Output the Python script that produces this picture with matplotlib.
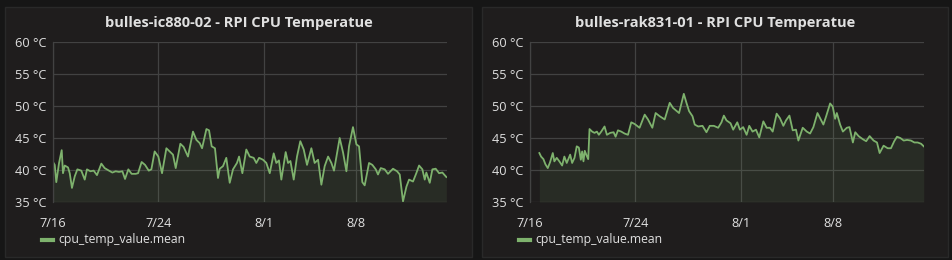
import matplotlib.pyplot as plt
from matplotlib.patches import Rectangle

plt.rcParams['font.family'] = ['Open Sans', 'DejaVu Sans']

# days since 7/16
left_days = [0.00, 0.13, 0.25, 0.46, 0.66, 0.76, 0.89, 1.14, 1.27, 1.44, 1.65, 1.85, 2.15, 2.41, 2.58,
             2.84, 3.09, 3.34, 3.67, 3.92, 4.25, 4.51, 4.76, 5.01, 5.27, 5.47, 5.72, 5.97, 6.28, 6.46,
             6.73, 6.99, 7.27, 7.47, 7.72, 8.00, 8.28, 8.61, 8.86, 9.11, 9.32, 9.67, 9.92, 10.25, 10.63,
             10.89, 11.14, 11.32, 11.65, 11.85, 12.05, 12.30, 12.53, 12.66, 12.91, 13.16, 13.42, 13.67,
             13.97, 14.13, 14.38, 14.68, 14.94, 15.24, 15.44, 15.65, 15.95, 16.20, 16.46, 16.76, 16.96,
             17.16, 17.34, 17.67, 17.85, 18.03, 18.28, 18.53, 18.78, 19.04, 19.29, 19.62, 19.87, 20.13,
             20.38, 20.63, 20.89, 21.14, 21.34, 21.77, 22.03, 22.28, 22.48, 22.78, 23.04, 23.24, 23.49,
             23.67, 24.00, 24.25, 24.51, 24.68, 24.89, 25.19, 25.44, 25.82, 26.13, 26.33, 26.58, 26.84,
             27.04, 27.34, 27.59, 27.80, 28.05, 28.23, 28.35, 28.61, 28.81, 29.06, 29.32, 29.57, 29.87]
left_temp = [41.25, 40.8, 38.1, 41.1, 43.1, 39.5, 40.7, 40.4, 39.5, 37.2, 39.0, 40.1, 39.9, 38.5, 40.1,
             39.8, 39.9, 39.2, 41.0, 40.3, 39.9, 39.6, 39.8, 39.7, 39.8, 38.6, 40.1, 39.4, 39.4, 39.5,
             41.25, 40.8, 39.9, 40.1, 42.9, 42.1, 39.5, 43.4, 42.9, 42.4, 40.3, 44.1, 43.6, 42.1, 46.0,
             44.7, 44.2, 43.4, 46.4, 46.2, 43.7, 43.4, 38.75, 40.2, 40.6, 41.9, 38.0, 40.1,
             41.1, 42.1, 39.5, 43.2, 42.1, 41.9, 41.1, 41.9, 41.6, 41.1, 39.5, 42.6, 41.1,
             41.5, 38.5, 42.8, 41.1, 41.4, 38.5, 42.1, 44.5, 43.2, 40.8, 43.4, 41.1, 41.6,
             37.7, 40.6, 42.1, 41.1, 39.9, 45.0, 42.7, 39.8, 43.7, 46.7, 44.0, 43.7, 38.1,
             37.6, 41.1, 40.8, 40.1, 39.3, 40.3, 40.1, 39.4, 40.2, 39.8, 39.3, 35.1, 37.4,
             38.5, 38.2, 39.5, 40.7, 40.1, 38.5, 39.6, 38.0, 40.1, 40.2, 39.5, 39.6, 38.9]

right_days = [0.71, 0.84, 1.02, 1.17, 1.35, 1.52, 1.73, 1.85, 2.03, 2.23, 2.44, 2.61, 2.79, 3.05, 3.20,
              3.38, 3.55, 3.71, 3.86, 3.96, 4.06, 4.16, 4.31, 4.42, 4.52, 4.72, 4.90, 5.08, 5.23, 5.41,
              5.66, 5.84, 6.09, 6.35, 6.50, 6.68, 6.93, 7.18, 7.44, 7.69, 7.94, 8.32, 8.71, 8.96, 9.29,
              9.54, 9.85, 10.23, 10.61, 10.86, 11.32, 11.68, 11.88, 12.08, 12.34, 12.51, 12.77, 13.10,
              13.40, 13.65, 13.96, 14.29, 14.54, 14.72, 14.92, 15.23, 15.43, 15.74, 15.94, 16.19, 16.45,
              16.65, 16.90, 17.16, 17.41, 17.72, 17.97, 18.22, 18.43, 18.73, 18.98, 19.24, 19.44, 19.70,
              19.95, 20.20, 20.38, 20.71, 21.02, 21.27, 21.52, 21.83, 22.03, 22.28, 22.49, 22.79, 22.99,
              23.17, 23.30, 23.55, 23.76, 24.06, 24.26, 24.52, 24.70, 24.95, 25.28, 25.53, 25.79, 26.09,
              26.35, 26.55, 26.85, 27.16, 27.41, 27.66, 27.87, 28.12, 28.38, 28.63, 28.93, 29.19, 29.44,
              29.70, 29.90]
right_temp = [42.65, 42.1, 41.7, 40.9, 40.3, 41.2, 42.65, 41.35, 41.9, 41.35, 40.7, 42.1, 41.1, 42.4, 41.1,
              41.9, 43.7, 43.5, 41.6, 42.9, 41.35, 43.0, 42.2, 41.7, 46.4, 46.0, 45.8, 46.0, 45.5, 46.0,
              46.8, 45.5, 45.8, 45.9, 45.2, 46.2, 46.0, 45.7, 45.5, 47.45, 47.2, 46.6, 48.65, 47.9, 46.6,
              48.9, 48.4, 47.9, 50.5, 49.7, 48.9, 51.9, 50.5, 49.2, 48.4, 47.1, 46.8, 46.9,
              45.9, 46.9, 46.9, 46.6, 47.45, 48.5, 47.75, 47.3, 46.3, 47.45, 46.3, 46.7, 45.5,
              46.9, 46.0, 46.3, 45.1, 47.6, 46.6, 46.6, 46.0, 48.8, 48.1, 46.9, 47.75, 48.5,
              46.2, 46.3, 44.6, 46.6, 46.0, 45.7, 46.7, 48.9, 48.1, 47.1, 48.4, 50.4, 49.9,
              48.0, 48.9, 47.1, 46.0, 46.6, 46.7, 44.3, 45.9, 45.3, 44.8, 44.5, 45.3, 44.6,
              44.3, 42.65, 43.8, 43.4, 43.4, 44.5, 45.2, 45.0, 44.6, 44.7, 44.6, 44.3, 44.3,
              44.1, 43.7]

tick_days = [0, 8, 16, 23]
tick_labels = ['7/16', '7/24', '8/1', '8/8']
y_ticks = [35, 40, 45, 50, 55, 60]

titles = ['bulles-ic880-02 - RPI CPU Temperatue', 'bulles-rak831-01 - RPI CPU Temperatue']
series = [(left_days, left_temp), (right_days, right_temp)]

bg = '#161616'
panel_bg = '#1f1d1d'
text_c = '#e0e0e0'
grid_c = '#424242'
green = '#7eb26d'

fig = plt.figure(figsize=(9.53, 2.6), dpi=100, facecolor=bg)
W, H = 953, 260

panels = [(5, 7, 467, 250), (482, 7, 466, 250)]
axes_px = [(53, 42, 394, 160), (530, 42, 394, 160)]

for i in range(2):
    px, py, pw, ph = panels[i]
    fig.patches.append(Rectangle((px / W, 1 - (py + ph) / H), pw / W, ph / H,
                                 transform=fig.transFigure, facecolor=panel_bg,
                                 edgecolor='#292929', lw=1, zorder=-5))
    ax_x, ax_y, ax_w, ax_h = axes_px[i]
    ax = fig.add_axes([ax_x / W, 1 - (ax_y + ax_h) / H, ax_w / W, ax_h / H])
    ax.set_facecolor('none')
    d, t = series[i]
    ax.fill_between(d, 35, t, color=green, alpha=0.1, lw=0)
    ax.plot(d, t, color=green, lw=1.3, solid_joinstyle='round')
    ax.set_xlim(0, 29.92)
    ax.set_ylim(35, 60)
    ax.set_xticks(tick_days)
    ax.set_xticklabels(tick_labels)
    ax.set_yticks(y_ticks)
    ax.set_yticklabels([f'{v} °C' for v in y_ticks])
    ax.tick_params(length=0, colors=text_c, labelsize=9.2)
    ax.tick_params(axis='y', pad=5)
    ax.tick_params(axis='x', pad=11)
    ax.grid(True, color=grid_c, lw=0.9)
    for s in ['top', 'right', 'bottom']:
        ax.spines[s].set_visible(False)
    ax.spines['left'].set_color(grid_c)
    ax.spines['left'].set_linewidth(0.9)
    ax.set_axisbelow(True)

    cx = (px + pw / 2) / W
    fig.text(cx, 1 - 23 / H, titles[i], color=text_c, fontsize=10.5, fontweight='bold',
             ha='center', va='center')
    # legend
    lx = px + 37
    fig.lines.append(plt.Line2D([lx / W, (lx + 11) / W], [1 - 240 / H, 1 - 240 / H],
                                transform=fig.transFigure, color=green, lw=3))
    fig.text((lx + 16) / W, 1 - 240 / H, 'cpu_temp_value.mean', color=text_c,
             fontsize=8.8, ha='left', va='center')

fig.savefig('out.png', dpi=100, facecolor=bg)
